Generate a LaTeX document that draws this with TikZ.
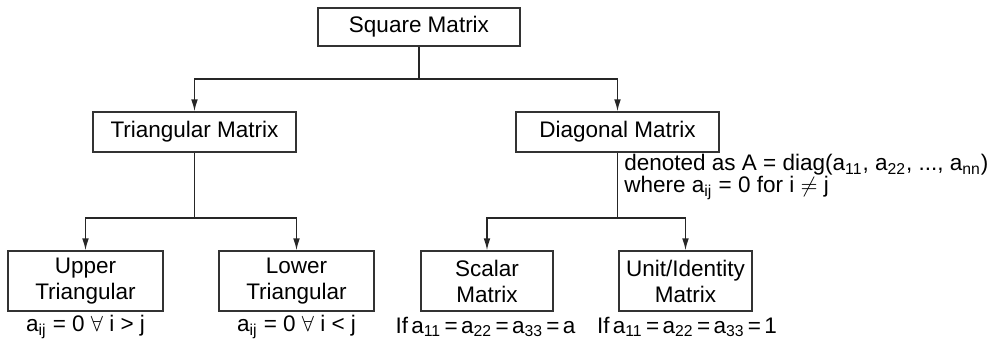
\documentclass[tikz,border=0pt]{standalone}
\usepackage{fontspec}
\setmainfont{Liberation Sans}
\usetikzlibrary{positioning,arrows.meta}
\newcommand{\tightsp}{\spaceskip=0.15em\relax}
\tikzset{
  box/.style={draw=black!80, line width=0.7pt, fill=white, minimum height=20pt, inner sep=0pt},
  tallbox/.style={box, minimum height=30pt, align=center},
  conn/.style={draw=black!85, line width=0.7pt},
  arr/.style={conn, -{Latex[length=6pt,width=3.4pt]}},
  note/.style={inner sep=0pt},
  tightnote/.style={note, execute at begin node=\tightsp}
}
\begin{document}
\begin{tikzpicture}[x=0.5pt,y=-0.5pt,font=\fontsize{11.25}{13}\selectfont]
        \useasboundingbox (0,0) rectangle (1007,348);
        % 第一层
        \node[box, minimum width=101pt, minimum height=19pt] (square) at (419,27) {Square Matrix};
        % 第二层
        \node[box, minimum width=101.5pt] (tri) at (194.5,132) {Triangular Matrix};
        \node[box, minimum width=101.5pt] (diag) at (617.5,132) {Diagonal Matrix};
        % 第三层
        \node[tallbox, minimum width=77.5pt] (upper) at (85.5,281) {Upper\\Triangular};
        \node[tallbox, minimum width=77.5pt] (lower) at (296.5,281) {Lower\\Triangular};
        \node[tallbox, minimum width=66pt] (scalar) at (487,281) {Scalar\\Matrix};
        \node[tallbox, minimum width=66.5pt] (unit) at (685.5,281) {Unit/Identity\\Matrix};
        % 分叉点
        \coordinate (sqsplit) at (419,79);
        \coordinate (trisplit) at (194.5,218);
        \coordinate (diagsplit) at (617.5,218);
        % 连线
        \draw[conn] (square.south) -- (sqsplit);
        \draw[arr] (sqsplit) -| (tri.north);
        \draw[arr] (sqsplit) -| (diag.north);
        \draw[conn] (tri.south) -- (trisplit);
        \draw[arr] (trisplit) -| (upper.north);
        \draw[arr] (trisplit) -| (lower.north);
        \draw[conn] (diag.south) -- (diagsplit);
        \draw[arr] (diagsplit) -| (scalar.north);
        \draw[arr] (diagsplit) -| (unit.north);
        % 说明文字
        \node[note, anchor=west] (dnote1) at (624,165) {denoted as A = diag(a\textsubscript{11}, a\textsubscript{22}, ..., a\textsubscript{nn})};
        \node[note, anchor=west] (dnote2) at (624,188) {where a\textsubscript{ij} = 0 for i $\neq$ j};
        \node[note] (uppernote) at (85.5,327) {a\textsubscript{ij} = 0 $\forall$ i > j};
        \node[note] (lowernote) at (296.5,327) {a\textsubscript{ij} = 0 $\forall$ i < j};
        \node[tightnote] (scalarnote) at (485.5,327) {If a\textsubscript{11} = a\textsubscript{22} = a\textsubscript{33} = a};
        \node[tightnote] (unitnote) at (687,327) {If a\textsubscript{11} = a\textsubscript{22} = a\textsubscript{33} = 1};
    \end{tikzpicture}
\end{document}
